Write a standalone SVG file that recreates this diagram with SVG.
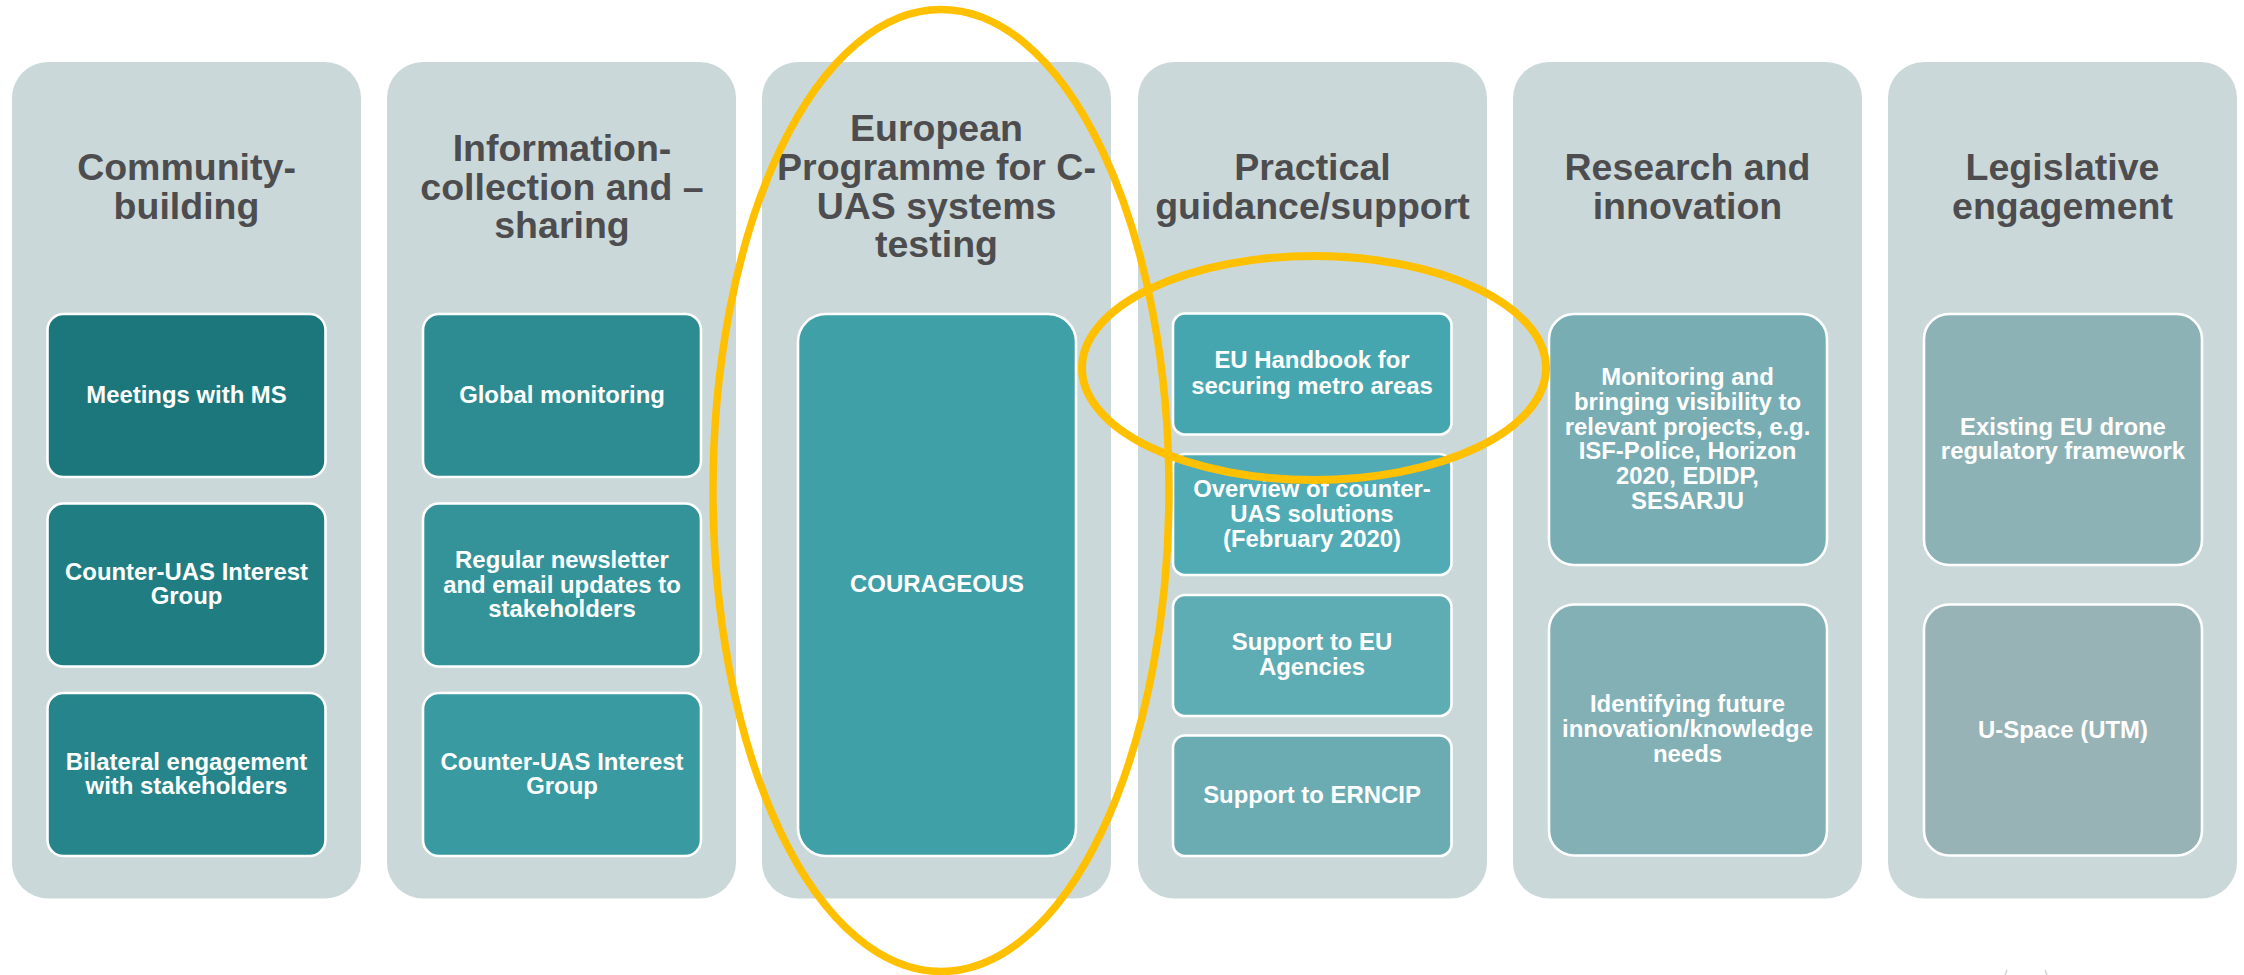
<svg xmlns="http://www.w3.org/2000/svg" width="2244" height="975" viewBox="0 0 2244 975">
<style>
.bg{fill:#cbd8d9}
.b{stroke:#fff;stroke-width:2.600}
text{font-family:"Liberation Sans",Arial,sans-serif;font-weight:700;text-anchor:middle}
.h{font-size:37.500px;fill:#4d4d4f}
.t{font-size:23.900px;fill:#fff}
.o{fill:none;stroke:#ffc000}
.m{fill:none;stroke:#d2d2d2;stroke-width:1.500}
</style>
<rect width="2244" height="975" fill="#fff"/>
<g id="col1">
<rect class="bg" x="12" y="62" width="349" height="836.500" rx="36"/>
<text class="h" x="186.500"><tspan x="186.500" y="180">Community-</tspan><tspan x="186.500" y="219">building</tspan></text>
</g>
<g id="col1-a"><rect class="b" x="47.500" y="314" width="278" height="163" rx="16" fill="#1b777b"/><text class="t" y="403"><tspan x="186.500">Meetings with MS</tspan></text></g>
<g id="col1-b"><rect class="b" x="47.500" y="503.500" width="278" height="163" rx="16" fill="#207e83"/><text class="t"><tspan x="186.500" y="580">Counter-UAS Interest</tspan><tspan x="186.500" y="604">Group</tspan></text></g>
<g id="col1-c"><rect class="b" x="47.500" y="693" width="278" height="163" rx="16" fill="#26858b"/><text class="t"><tspan x="186.500" y="770">Bilateral engagement</tspan><tspan x="186.500" y="794">with stakeholders</tspan></text></g>
<g id="col2">
<rect class="bg" x="387" y="62" width="349" height="836.500" rx="36"/>
<text class="h"><tspan x="562" y="161">Information-</tspan><tspan x="562" y="199.500">collection and –</tspan><tspan x="562" y="238">sharing</tspan></text>
</g>
<g id="col2-a"><rect class="b" x="423" y="314" width="278" height="163" rx="16" fill="#2d8c92"/><text class="t"><tspan x="562" y="403">Global monitoring</tspan></text></g>
<g id="col2-b"><rect class="b" x="423" y="503.500" width="278" height="163" rx="16" fill="#349399"/><text class="t"><tspan x="562" y="568">Regular newsletter</tspan><tspan x="562" y="592.500">and email updates to</tspan><tspan x="562" y="617">stakeholders</tspan></text></g>
<g id="col2-c"><rect class="b" x="423" y="693" width="278" height="163" rx="16" fill="#3a9aa1"/><text class="t"><tspan x="562" y="770">Counter-UAS Interest</tspan><tspan x="562" y="794">Group</tspan></text></g>
<g id="col3">
<rect class="bg" x="762" y="62" width="349" height="836.500" rx="36"/>
<text class="h"><tspan x="936.500" y="140.500">European</tspan><tspan x="936.500" y="179.500">Programme for C-</tspan><tspan x="936.500" y="218.500">UAS systems</tspan><tspan x="936.500" y="257">testing</tspan></text>
</g>
<g id="col3-a"><rect class="b" x="798" y="314" width="278" height="542" rx="28" fill="#40a0a8"/><text class="t"><tspan x="937" y="592">COURAGEOUS</tspan></text></g>
<g id="col4">
<rect class="bg" x="1138" y="62" width="349" height="836.500" rx="36"/>
<text class="h"><tspan x="1312.500" y="180">Practical</tspan><tspan x="1312.500" y="219">guidance/support</tspan></text>
</g>
<g id="col4-a"><rect class="b" x="1173" y="313.500" width="278.500" height="121" rx="12" fill="#46a6af"/><text class="t"><tspan x="1312" y="368">EU Handbook for</tspan><tspan x="1312" y="393.500">securing metro areas</tspan></text></g>
<g id="col4-b"><rect class="b" x="1173" y="454" width="278.500" height="121" rx="12" fill="#51abb5"/><text class="t"><tspan x="1312" y="497">Overview of counter-</tspan><tspan x="1312" y="522">UAS solutions</tspan><tspan x="1312" y="547">(February 2020)</tspan></text></g>
<g id="col4-c"><rect class="b" x="1173" y="595" width="278.500" height="121" rx="12" fill="#5eacb4"/><text class="t"><tspan x="1312" y="650">Support to EU</tspan><tspan x="1312" y="675">Agencies</tspan></text></g>
<g id="col4-d"><rect class="b" x="1173" y="735.500" width="278.500" height="120.500" rx="12" fill="#6bacb3"/><text class="t"><tspan x="1312" y="803">Support to ERNCIP</tspan></text></g>
<g id="col5">
<rect class="bg" x="1513" y="62" width="349" height="836.500" rx="36"/>
<text class="h"><tspan x="1687.500" y="180">Research and</tspan><tspan x="1687.500" y="219">innovation</tspan></text>
</g>
<g id="col5-a"><rect class="b" x="1549" y="314" width="278" height="251" rx="25" fill="#77adb3"/><text class="t"><tspan x="1687.500" y="385">Monitoring and</tspan><tspan x="1687.500" y="410">bringing visibility to</tspan><tspan x="1687.500" y="435">relevant projects, e.g.</tspan><tspan x="1687.500" y="459">ISF-Police, Horizon</tspan><tspan x="1687.500" y="484">2020, EDIDP,</tspan><tspan x="1687.500" y="508.500">SESARJU</tspan></text></g>
<g id="col5-b"><rect class="b" x="1549" y="604.500" width="278" height="251" rx="25" fill="#82b0b4"/><text class="t"><tspan x="1687.500" y="712">Identifying future</tspan><tspan x="1687.500" y="737">innovation/knowledge</tspan><tspan x="1687.500" y="762">needs</tspan></text></g>
<g id="col6">
<rect class="bg" x="1888" y="62" width="349" height="836.500" rx="36"/>
<text class="h"><tspan x="2062.500" y="180">Legislative</tspan><tspan x="2062.500" y="219">engagement</tspan></text>
</g>
<g id="col6-a"><rect class="b" x="1924" y="314" width="278" height="251" rx="25" fill="#8db2b5"/><text class="t"><tspan x="2063" y="435">Existing EU drone</tspan><tspan x="2063" y="459">regulatory framework</tspan></text></g>
<g id="col6-b"><rect class="b" x="1924" y="604.500" width="278" height="251" rx="25" fill="#97b3b6"/><text class="t"><tspan x="2063" y="738">U-Space (UTM)</tspan></text></g>
<g id="connectors"></g>
<g id="highlights">
<ellipse class="o" cx="941" cy="490.500" rx="228" ry="481" stroke-width="7.500"/>
<ellipse class="o" cx="1314" cy="368" rx="232" ry="112" stroke-width="8"/>
</g>
<g id="marks"><path class="m" d="M2007 970l-2 5M2045 970l2 5"/></g>
</svg>
